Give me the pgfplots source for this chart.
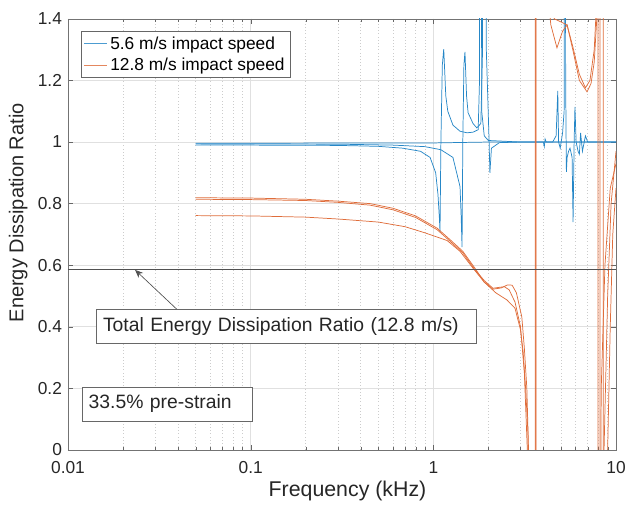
\documentclass[border=0pt]{standalone}
\usepackage{pgfplots}
\pgfplotsset{compat=1.18}
\usepackage{fontspec}
\setmainfont{Liberation Sans}
\usetikzlibrary{arrows.meta}
\definecolor{mblue}{RGB}{0,114,189}
\definecolor{morange}{RGB}{217,83,25}
\definecolor{axgray}{RGB}{38,38,38}

\begin{document}
\begin{tikzpicture}
\path[use as bounding box] (-51pt,-42.75pt) rectangle (424.5pt,337.5pt);
\begin{axis}[
    scale only axis,
    width=411pt, height=323.25pt,
    xmode=log,
    xmin=0.01, xmax=10,
    ymin=0, ymax=1.4,
    xtick={0.01,0.1,1,10},
    xticklabels={0.01,0.1,1,10},
    ytick={0,0.2,0.4,0.6,0.8,1,1.2,1.4},
    yticklabel style={/pgf/number format/fixed, xshift=-1pt},
    xticklabel style={yshift=-5pt},
    /pgf/number format/assume math mode=true,
    tick label style={font=\fontsize{13}{15}\selectfont, text=axgray},
    xlabel={Frequency (kHz)},
    ylabel={Energy Dissipation Ratio},
    xlabel style={font=\fontsize{16}{18}\selectfont, text=axgray, at={(axis description cs:0.51,-0.095)}, anchor=center},
    ylabel style={font=\fontsize{15}{17}\selectfont, text=axgray, at={(axis description cs:-0.091,0.55)}, anchor=center},
    axis line style={black!55},
    tick style={black!60},
    major tick length=4pt,
    minor tick length=2.5pt,
    tick align=inside,
    grid=both,
    major grid style={black!12},
    minor x grid style={black!20, dotted},
    minor y tick num=0,
    legend cell align=left,
    legend style={at={(axis description cs:0.0237,0.972)}, anchor=north west,
        font=\fontsize{13}{15}\selectfont, draw=black!60, inner sep=2pt,
        row sep=1pt},
    every axis plot/.append style={line width=0.55pt},
]
\addlegendimage{mblue!70, line width=0.7pt}
\addlegendentry{5.6 m/s impact speed}
\addlegendimage{morange!70, line width=0.7pt}
\addlegendentry{12.8 m/s impact speed}
% ---- 5.6 m/s (blue)
\addplot[mblue!85, forget plot] coordinates {
(0.05,0.990)(0.1,0.990)(0.3,0.989)(0.5,0.986)(0.68,0.980)(0.85,0.970)(0.96,0.950)
(1.03,0.90)(1.06,0.83)(1.08,0.75)(1.088,0.708)(1.10,1.00)(1.12,1.25)(1.14,1.302)
(1.17,1.15)(1.2,1.10)(1.28,1.055)(1.4,1.035)(1.53,1.03)(1.65,1.032)(1.76,1.04)
(1.79,1.2)(1.80,3)(1.82,3)(1.84,1.1)(1.9,1.02)(2.0,1.005)(3,1.0)(10,1.0)};
\addplot[mblue!85, forget plot] coordinates {
(0.05,0.994)(0.3,0.993)(0.6,0.990)(0.9,0.985)(1.1,0.975)(1.28,0.95)(1.40,0.855)
(1.42,0.76)(1.436,0.659)(1.45,1.0)(1.47,1.25)(1.49,1.293)(1.52,1.15)(1.55,1.095)
(1.65,1.06)(1.73,1.046)(1.82,1.06)(1.86,1.3)(1.87,3)(1.9,3)(1.95,1.3)(1.99,1.13)
(2.02,1.0)(2.04,0.90)(2.08,0.98)(2.3,0.998)(3,1.0)(10,1.0)};
\addplot[mblue!85, forget plot] coordinates {
(0.05,0.996)(1,0.997)(2,1.0)(4.0,1.0)(4.05,0.985)(4.09,1.01)(4.15,1.0)(4.5,1.0)
(4.7,1.02)(4.8,1.166)(4.85,1.0)(4.95,0.98)(5.1,1.03)(5.2,1.1)(5.25,3)(5.28,3)
(5.3,1.2)(5.35,0.903)(5.4,0.95)(5.5,0.97)(5.6,0.98)(5.75,0.95)(5.82,0.74)(5.9,1.0)
(5.96,1.114)(6.05,1.0)(6.2,0.97)(6.3,0.96)(6.4,1.03)(6.55,0.97)(6.8,1.02)(7.0,1.0)
(10,1.0)};
% ---- 12.8 m/s (orange)
\addplot[morange!85, forget plot] coordinates {
(0.05,0.819)(0.1,0.818)(0.2,0.814)(0.3,0.808)(0.45,0.800)(0.6,0.785)(0.8,0.760)
(1.05,0.720)(1.25,0.680)(1.45,0.645)(1.69,0.590)(1.9,0.545)(2.12,0.522)(2.35,0.526)
(2.55,0.536)(2.7,0.535)(2.85,0.51)(3.05,0.432)(3.15,0.33)(3.25,0.2)(3.32,0)
(3.45,-1)(3.6,-5)(3.64,-30)(3.66,30)(3.75,5)(3.9,2)(4.1,1.55)(4.4,1.38)(4.75,1.306)
(5.1,1.36)(5.4,1.38)(5.8,1.30)(6.3,1.20)(6.94,1.163)(7.3,1.19)(7.6,1.26)(7.85,1.4)
(8.0,2)(8.15,30)(8.2,-30)(8.35,-2)(8.6,0)(9.0,0.5)(9.4,0.8)(10,0.97)};
\addplot[morange!85, forget plot] coordinates {
(0.05,0.814)(0.1,0.813)(0.2,0.810)(0.3,0.804)(0.45,0.795)(0.6,0.780)(0.8,0.755)
(1.05,0.715)(1.25,0.675)(1.45,0.640)(1.69,0.585)(1.9,0.550)(2.12,0.525)(2.3,0.528)
(2.45,0.530)(2.6,0.52)(2.8,0.48)(3.0,0.40)(3.15,0.25)(3.27,0)(3.4,-1)(3.62,-30)
(3.65,30)(3.8,4)(4.0,1.8)(4.3,1.45)(4.6,1.40)(5.0,1.39)(5.4,1.38)(5.8,1.31)
(6.3,1.22)(6.8,1.176)(7.2,1.20)(7.6,1.30)(7.9,1.5)(7.96,30)(7.98,-30)(8.1,-1)
(8.3,0.2)(8.7,0.6)(9.3,0.85)(10,0.93)};
\addplot[morange!85, forget plot] coordinates {
(0.05,0.761)(0.1,0.760)(0.2,0.756)(0.3,0.750)(0.5,0.740)(0.7,0.725)(0.9,0.705)
(1.19,0.680)(1.4,0.645)(1.65,0.590)(1.9,0.545)(2.2,0.510)(2.53,0.487)(2.8,0.46)
(3.0,0.39)(3.1,0.32)(3.2,0.2)(3.3,0.05)(3.35,-1)(3.6,-30)(3.63,30)(3.8,3)(4.2,1.6)
(4.6,1.45)(5.0,1.42)(5.5,1.45)(6,1.6)(7,2.5)(8.5,30)(8.55,-30)(8.8,-1)(9.0,0)
(9.3,0.4)(9.6,0.7)(10,0.85)};
% ---- total energy dissipation ratio
\addplot[axgray!80, line width=0.8pt, forget plot] coordinates {(0.01,0.5846)(10,0.5846)};
% ---- annotations
\draw[axgray!80, line width=0.5pt, -{Stealth[length=6pt,width=5pt]}]
    (axis cs:0.0394,0.457) -- (axis cs:0.02329,0.5846);
\node[draw=axgray!70, fill=white, anchor=north west, inner ysep=0pt, inner xsep=5pt,
    text width=275pt, minimum height=25.5pt, align=left,
    font=\fontsize{14.5}{17}\selectfont, text=axgray]
    at (axis cs:0.01425,0.458) {Total Energy Dissipation Ratio (12.8 m/s)};
\node[draw=axgray!70, fill=white, anchor=north west, inner ysep=0pt, inner xsep=4.5pt,
    text width=118pt, minimum height=25.5pt, align=left,
    font=\fontsize{14.5}{17}\selectfont, text=axgray]
    at (axis cs:0.012,0.2056) {33.5\% pre-strain};
\end{axis}
\end{tikzpicture}
\end{document}
